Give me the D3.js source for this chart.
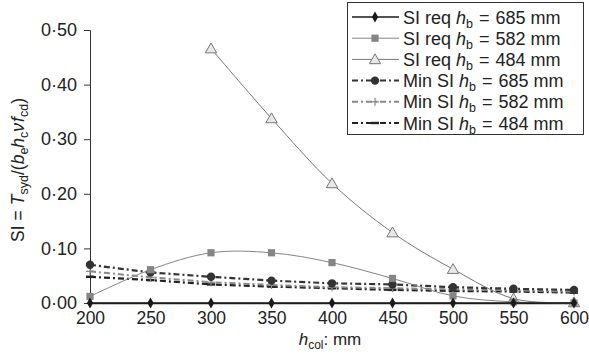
<!DOCTYPE html>
<html lang="en">
<head>
  <meta charset="UTF-8">
  <title>SI vs h_col</title>
  <style>
    body { margin: 0; background: #fff; }
    svg { font-family: "Liberation Sans", Arial, sans-serif; }
  </style>
</head>
<body>
  <div id="svg"></div>
  <script src="https://d3js.org/d3.v7.min.js"></script>
  <script>
// data
const hcol = [200, 250, 300, 350, 400, 450, 500, 550, 600]
const siReq685 = [0, 0, 0, 0, 0, 0, 0, 0, 0]
const siReq582 = [0.012, 0.061, 0.092, 0.092, 0.074, 0.045, 0.013, 0.002, 0.000]
const siReq484 = [null, null, 0.466, 0.338, 0.219, 0.129, 0.062, 0.008, 0.001]
const minSi685 = [0.070, 0.056, 0.048, 0.041, 0.036, 0.034, 0.029, 0.026, 0.024]
const minSi582 = [0.058, 0.047, 0.038, 0.033, 0.029, 0.027, 0.025, 0.023, 0.021]
const minSi484 = [0.048, 0.042, 0.034, 0.030, 0.027, 0.024, 0.022, 0.021, 0.019]
const yTicks = [0, 0.1, 0.2, 0.3, 0.4, 0.5]
const legendLabels = [
  ['SI req ', '685'], ['SI req ', '582'], ['SI req ', '484'],
  ['Min SI ', '685'], ['Min SI ', '582'], ['Min SI ', '484']
]

const series = [
  {vals: siReq685, color: '#1a1a1a', dash: null, marker: 'diamond', smooth: false, width: 1.3},
  {vals: siReq582, color: '#858585', dash: null, marker: 'square', smooth: true, width: 1},
  {vals: siReq484, color: '#777', dash: null, marker: 'triangle', smooth: true, width: 1},
  {vals: minSi685, color: '#333', dash: '6,3,2,3', marker: 'circle', smooth: false, width: 2.2},
  {vals: minSi582, color: '#888', dash: '6,3,2,3', marker: 'plus', smooth: false, width: 2},
  {vals: minSi484, color: '#222', dash: '6,3,2,3', marker: 'dash', smooth: false, width: 2.2}
]

const width = 589, height = 358
const fs = 18
const svg = d3.select('#svg').append('svg')
  .attr('width', width).attr('height', height)

const x = d3.scaleLinear().domain([200, 600]).range([90, 574])
const y = d3.scaleLinear().domain([0, 0.5]).range([303, 30])

// y axis
const leftAxis = d3.axisLeft(y).tickValues(yTicks).tickSize(6)
  .tickFormat(d => d3.format('.2f')(d).replace('.', '\u00b7'))
const gy = svg.append('g').attr('transform', 'translate(90,0)').call(leftAxis)
gy.select('.domain').attr('stroke', '#333')
gy.selectAll('.tick line').attr('stroke', '#333')
gy.selectAll('.tick text').attr('font-size', fs).attr('fill', '#222').attr('x', -13)
gy.selectAll('text').attr('font-family', null)

// x axis
const bottomAxis = d3.axisBottom(x).tickValues(hcol).tickSize(0).tickFormat(d3.format('d'))
const gx = svg.append('g').attr('transform', 'translate(0,303)').call(bottomAxis)
gx.select('.domain').attr('stroke', '#222').attr('stroke-width', 1.3)
gx.selectAll('.tick text').attr('font-size', 17.5).attr('fill', '#222').attr('y', 9)
gx.selectAll('text').attr('font-family', null)

// axis titles
const xt = svg.append('text').attr('x', 330).attr('y', 345)
  .attr('text-anchor', 'middle').attr('font-size', 17).attr('fill', '#222')
xt.append('tspan').attr('font-style', 'italic').text('h')
xt.append('tspan').attr('font-size', 12).attr('dy', 4).text('col')
xt.append('tspan').attr('dy', -4).text(': mm')

const yt = svg.append('text')
  .attr('transform', 'translate(24,170) rotate(-90)')
  .attr('text-anchor', 'middle').attr('font-size', 17.5).attr('fill', '#222')
yt.append('tspan').text('SI')
yt.append('tspan').attr('dx', 5).text('=')
yt.append('tspan').attr('dx', 5).attr('font-style', 'italic').text('T')
yt.append('tspan').attr('font-size', 12.5).attr('dy', 4).text('syd')
yt.append('tspan').attr('dy', -4).text('/(')
yt.append('tspan').attr('font-style', 'italic').text('b')
yt.append('tspan').attr('font-size', 12.5).attr('dy', 4).text('e')
yt.append('tspan').attr('dy', -4).attr('font-style', 'italic').text('h')
yt.append('tspan').attr('font-size', 12.5).attr('dy', 4).text('c')
yt.append('tspan').attr('dy', -4).attr('font-style', 'italic').text('\u03bd')
yt.append('tspan').attr('dx', 1).attr('font-style', 'italic').text('f')
yt.append('tspan').attr('font-size', 12.5).attr('dy', 4).text('cd')
yt.append('tspan').attr('dy', -4).text(')')

function drawMarker(g, type, cx, cy, color) {
  if (type === 'diamond') {
    g.append('path').attr('d', d3.symbol(d3.symbolDiamond, 34)())
      .attr('transform', `translate(${cx},${cy})`).attr('fill', color)
  } else if (type === 'square') {
    g.append('path').attr('d', d3.symbol(d3.symbolSquare, 52)())
      .attr('transform', `translate(${cx},${cy})`).attr('fill', color)
  } else if (type === 'triangle') {
    g.append('path').attr('d', d3.symbol(d3.symbolTriangle, 56)())
      .attr('transform', `translate(${cx},${cy + 1})`)
      .attr('fill', '#e8e8e8').attr('stroke', color).attr('stroke-width', 1)
  } else if (type === 'circle') {
    g.append('circle').attr('cx', cx).attr('cy', cy).attr('r', 4.2).attr('fill', color)
  } else if (type === 'plus') {
    g.append('line').attr('x1', cx - 4).attr('x2', cx + 4).attr('y1', cy).attr('y2', cy)
      .attr('stroke', color).attr('stroke-width', 1.2)
    g.append('line').attr('x1', cx).attr('x2', cx).attr('y1', cy - 4).attr('y2', cy + 4)
      .attr('stroke', color).attr('stroke-width', 1.2)
  } else if (type === 'dash') {
    g.append('rect').attr('x', cx - 4).attr('y', cy - 1.2).attr('width', 8).attr('height', 2.4)
      .attr('fill', color)
  }
}

// lines, drawn back to front
const order = [5, 4, 3, 2, 1, 0]
order.forEach(i => {
  const s = series[i]
  const pts = hcol.map((h, j) => [h, s.vals[j]]).filter(p => p[1] !== null)
  const line = d3.line().x(p => x(p[0])).y(p => y(p[1]))
    .curve(s.smooth ? d3.curveCardinal.tension(0) : d3.curveLinear)
  const g = svg.append('g')
  g.append('path').datum(pts).attr('d', line)
    .attr('fill', 'none').attr('stroke', s.color).attr('stroke-width', s.width)
    .attr('stroke-dasharray', s.dash)
  pts.forEach(p => drawMarker(g, s.marker, x(p[0]), y(p[1]), s.color))
})

// legend
const lg = svg.append('g')
lg.append('rect').attr('x', 347.5).attr('y', 2.5).attr('width', 236).attr('height', 132)
  .attr('fill', '#fff').attr('stroke', '#333').attr('stroke-width', 1)
legendLabels.forEach((lab, i) => {
  const s = series[i]
  const ly = 17 + i * 21.2
  lg.append('line').attr('x1', 352).attr('x2', 399).attr('y1', ly).attr('y2', ly)
    .attr('stroke', s.color).attr('stroke-width', s.dash ? 2 : s.width)
    .attr('stroke-dasharray', s.dash)
  drawMarker(lg, s.marker, 375, ly, s.color)
  const t = lg.append('text').attr('x', 403).attr('y', ly + 6.5)
    .attr('font-size', fs).attr('fill', '#222')
  t.append('tspan').text(lab[0])
  t.append('tspan').attr('font-style', 'italic').text('h')
  t.append('tspan').attr('font-size', 12.5).attr('dy', 4).text('b')
  t.append('tspan').attr('dy', -4).attr('dx', 6).text('=')
  t.append('tspan').attr('dx', 6).text(lab[1] + ' mm')
})
  </script>
</body>
</html>
